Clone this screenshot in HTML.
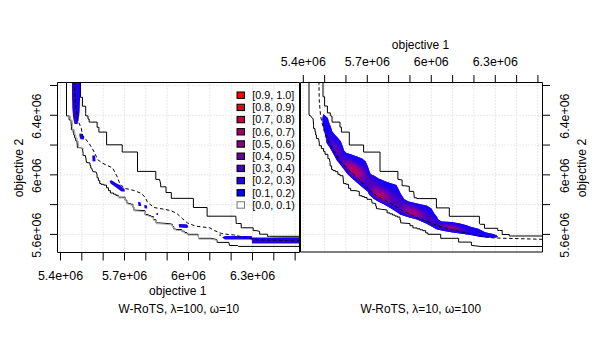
<!DOCTYPE html><html><head><meta charset="utf-8"><style>html,body{margin:0;padding:0;background:#fff;width:600px;height:350px;overflow:hidden}svg{display:block}text{font-family:"Liberation Sans",sans-serif;fill:#000}</style></head><body>
<svg width="600" height="350" viewBox="0 0 600 350">
<rect x="0" y="0" width="600" height="350" fill="#fff"/>
<path d="M60.50,82.5 V252.5 M303.30,82.5 V252.5 M81.83,82.5 V252.5 M324.63,82.5 V252.5 M103.16,82.5 V252.5 M345.96,82.5 V252.5 M124.49,82.5 V252.5 M367.29,82.5 V252.5 M145.82,82.5 V252.5 M388.62,82.5 V252.5 M167.15,82.5 V252.5 M409.95,82.5 V252.5 M188.48,82.5 V252.5 M431.28,82.5 V252.5 M209.81,82.5 V252.5 M452.61,82.5 V252.5 M231.14,82.5 V252.5 M473.94,82.5 V252.5 M252.47,82.5 V252.5 M495.27,82.5 V252.5 M273.80,82.5 V252.5 M516.60,82.5 V252.5 M295.13,82.5 V252.5 M537.93,82.5 V252.5 M57.5,234.40 H542.5 M57.5,204.62 H542.5 M57.5,174.84 H542.5 M57.5,145.06 H542.5 M57.5,115.28 H542.5 M57.5,85.50 H542.5" stroke="#d3d3d3" stroke-width="1" stroke-dasharray="1 2" fill="none"/>
<path d="M66.5,82.5 L66.5,115.9 L69.1,115.9 L69.1,119.9 L70.9,119.9 L71.4,126.7 L71.4,129.6 L73.1,129.6 L73.1,132.3 L73.8,132.3 L73.8,135.0 L74.6,135.0 L74.6,137.8 L75.7,137.8 L75.7,140.7 L76.8,140.7 L77.4,145.8 L77.4,147.6 L80.8,147.6 L82.5,148.7 L83.1,153.3 L83.1,155.5 L85.4,155.5 L86.5,162.4 L90.0,163.0 L90.0,165.6 L90.8,165.6 L90.8,168.1 L91.7,168.1 L92.8,171.5 L96.2,172.1 L97.1,174.9 L97.1,177.8 L98.4,177.8 L98.4,180.6 L99.7,180.6 L99.7,183.5 L101.0,183.5 L101.0,184.3 L103.8,184.3 L103.8,185.1 L106.5,185.1 L106.5,187.8 L108.5,187.8 L108.5,190.6 L110.4,190.6 L110.4,193.0 L113.5,193.0 L113.5,194.2 L115.9,194.2 L115.9,195.3 L118.3,195.3 L118.3,197.2 L121.4,197.2 L125.1,197.2 L125.1,200.1 L126.8,200.1 L126.8,203.0 L128.4,203.0 L128.4,203.7 L130.7,203.7 L130.7,204.3 L132.9,204.3 L132.9,207.2 L133.9,207.2 L133.9,210.1 L134.8,210.1 L145.1,210.7 L145.1,214.6 L148.3,214.6 L148.3,215.6 L150.9,215.6 L150.9,216.5 L153.4,216.5 L153.4,219.7 L156.0,219.7 L156.0,222.9 L158.6,222.9 L168.8,223.6 L172.3,224.3 L172.3,226.7 L173.8,226.7 L173.8,229.0 L175.3,229.0 L177.0,229.6 L181.7,229.6 L181.7,231.1 L184.3,231.1 L184.3,232.5 L186.9,232.5 L187.5,234.3 L198.0,234.3 L198.6,238.3 L210.8,238.3 L216.7,239.5 L217.3,242.4 L228.9,242.4 L229.5,245.5 L237.7,245.5 L238.4,246.4 L299.5,246.4" stroke="#000" stroke-width="1" fill="none"/>
<path d="M67.8,116.1 L70.4,116.1 L70.4,120.1 L72.2,120.1 L72.7,126.9 L72.7,129.8 L74.4,129.8 L74.4,132.5 L75.1,132.5 L75.1,135.2 L75.9,135.2 L75.9,138.0 L77.0,138.0 L77.0,140.9 L78.1,140.9 L78.7,146.0 L78.7,147.8 L82.1,147.8 L83.8,148.9" stroke="#a8a8a8" stroke-width="1" fill="none"/>
<path d="M118.5,196.2 L118.5,198.1 L121.6,198.1 L125.3,198.1 L125.3,201.0 L126.9,201.0 L126.9,203.9 L128.6,203.9 L128.6,204.6 L130.8,204.6 L130.8,205.2 L133.1,205.2 L133.1,208.1 L134.1,208.1 L134.1,211.0 L135.0,211.0 L145.3,211.6 L145.3,215.5 L148.5,215.5 L148.5,216.4 L151.1,216.4 L151.1,217.4 L153.6,217.4 L153.6,220.6 L156.2,220.6 L156.2,223.8 L158.8,223.8 L169.0,224.5 L172.5,225.2 L172.5,227.6 L174.0,227.6 L174.0,229.9 L175.5,229.9 L177.2,230.5 L181.9,230.5 L181.9,231.9 L184.5,231.9 L184.5,233.4 L187.1,233.4 L187.7,235.2 L198.2,235.2 L198.8,239.2 L211.0,239.2 L216.9,240.4" stroke="#b0b0b0" stroke-width="1" fill="none"/>
<path d="M80.5,82.5 L80.5,97.3 L82.5,97.3 L82.4,106.2 L85.7,106.2 L85.7,113.6 L85.7,115.9 L88.0,115.9 L88.0,119.0 L89.2,119.0 L89.2,122.1 L90.3,122.1 L97.1,122.1 L97.1,127.3 L98.9,127.3 L98.9,132.1 L106.6,132.1 L106.6,144.8 L122.2,144.8 L122.2,152.0 L137.5,152.0 L137.5,171.4 L155.8,171.4 L155.8,179.4 L159.5,179.4 L160.7,184.0 L160.7,186.8 L162.4,186.8 L166.0,186.8 L166.0,192.5 L171.3,192.5 L171.3,198.3 L193.4,198.4 L193.4,207.5 L207.1,207.5 L207.1,216.2 L235.8,216.2 L236.2,222.1 L236.2,223.5 L237.7,223.5 L241.2,223.5 L241.2,227.8 L242.6,227.8 L253.2,227.8 L253.2,230.6 L256.1,230.6 L259.6,231.3 L259.6,234.2 L261.7,234.2 L267.4,234.2 L267.4,236.3 L269.5,236.3 L299.5,236.3" stroke="#000" stroke-width="1" fill="none"/>
<defs><linearGradient id="lg1" x1="0" x2="1" y1="0" y2="0"><stop offset="0" stop-color="#3200c6"/><stop offset="0.45" stop-color="#2a00d4"/><stop offset="0.6" stop-color="#1800f2"/><stop offset="1" stop-color="#1000f8"/></linearGradient></defs>
<path d="M72.0,82.5 L80.3,82.5 L80.0,100.0 L79.6,112.0 L78.5,120.0 L77.5,124.0 L74.5,124.0 L73.2,118.0 L72.3,108.0 L72.0,95.0 Z" fill="url(#lg1)" stroke="none"/>
<path d="M79.5,133.5 L82.0,133.8 L84.2,137.5 L83.8,139.5 L80.5,139.3 L79.3,136.0 Z" fill="#1a00f6" stroke="none"/>
<path d="M92.2,155.4 L95.0,155.6 L95.6,161.2 L92.6,161.4 Z" fill="#1a00f6" stroke="none"/>
<path d="M109.5,181.0 L111.5,180.2 L117.0,183.8 L120.0,185.0 L124.6,189.3 L124.8,191.6 L121.5,191.5 L116.5,187.8 L110.5,183.5 Z" fill="#1a00f6" stroke="none"/>
<path d="M138.0,202.0 L140.5,202.3 L141.3,206.0 L138.5,206.0 Z" fill="#1a00f6" stroke="none"/>
<path d="M144.2,205.0 L147.0,205.5 L147.2,208.5 L144.5,208.3 Z" fill="#1a00f6" stroke="none"/>
<path d="M156.5,213.0 L158.0,213.0 L158.0,215.0 L156.5,215.0 Z" fill="#1a00f6" stroke="none"/>
<path d="M178.8,224.0 L186.5,224.2 L188.3,226.0 L187.5,228.0 L179.0,227.6 Z" fill="#1a00f6" stroke="none"/>
<path d="M219.5,234.2 L220.8,234.2 L220.8,236.0 L219.5,236.0 Z" fill="#1a00f6" stroke="none"/>
<path d="M222.0,237.5 L225.0,236.0 L251.8,236.0 L252.0,237.4 L270.0,237.5 L285.0,237.2 L299.5,237.2 L299.5,243.6 L252.0,243.6 L251.8,239.6 L225.0,239.4 Z" fill="#1a00f6" stroke="none"/>
<path d="M252,239.5 L299.5,239.3 L299.5,242 L252,242 Z" fill="#3a00b8" opacity="0.7"/>
<path d="M74.4,82.5 L75.5,105.0 L77.7,119.9 L81.1,127.9 L82.7,135.3 L89.2,143.7 L92.0,148.0 L95.0,153.6 L97.6,159.6 L102.4,163.1 L107.3,165.5 L112.5,167.8 L116.7,175.7 L119.8,183.5 L124.5,188.3 L134.1,190.5 L141.2,193.4 L145.1,197.2 L147.6,202.4 L154.1,207.5 L157.3,208.1 L165.0,209.4 L171.0,210.7 L177.0,213.6 L182.3,218.5 L187.5,223.0 L195.7,226.2 L209.7,227.8 L214.3,230.5 L221.3,233.4 L228.5,234.5 L233.4,234.9 L249.0,238.4 L257.5,239.8 L299.5,241.0" stroke="#000" stroke-width="1" stroke-dasharray="3.5 2.5" stroke-dashoffset="1.4" fill="none"/>
<path d="M309.0,82.5 L309.0,115.1 L310.9,116.1 L311.4,117.4 L313.1,118.6 L313.6,125.7 L313.6,128.6 L315.0,128.6 L315.0,131.8 L315.7,131.8 L315.7,135.0 L316.4,135.0 L316.4,138.6 L318.6,138.6 L319.3,142.9 L319.3,145.7 L321.4,145.7 L321.4,148.6 L323.6,148.6 L323.6,151.4 L325.0,151.4 L325.0,154.3 L327.9,154.3 L327.9,158.6 L329.3,158.6 L330.1,162.3 L330.1,165.9 L331.6,165.9 L331.6,169.5 L333.0,169.5 L333.0,170.6 L335.4,170.6 L335.4,171.7 L337.9,171.7 L337.9,174.3 L340.0,174.3 L340.0,175.7 L342.9,175.7 L343.6,182.9 L343.6,183.6 L346.1,183.6 L346.1,184.3 L348.6,184.3 L348.6,188.3 L350.7,188.3 L350.7,190.6 L355.0,190.6 L359.3,191.5 L359.3,195.7 L361.9,195.7 L361.9,196.6 L364.4,196.6 L364.4,197.5 L367.0,197.5 L367.0,199.3 L371.4,199.3 L372.1,202.9 L375.7,203.6 L375.7,206.1 L376.4,206.1 L376.4,208.6 L377.1,208.6 L381.4,209.3 L387.1,210.0 L387.1,212.9 L390.0,212.9 L390.0,213.9 L392.5,213.9 L392.5,215.0 L395.0,215.0 L395.0,216.1 L397.5,216.1 L397.5,217.1 L400.0,217.1 L400.0,220.0 L400.7,220.0 L400.7,222.9 L401.4,222.9 L410.0,223.6 L410.0,225.7 L412.9,225.7 L412.9,227.9 L414.3,227.9 L417.1,227.9 L417.1,228.8 L420.0,228.8 L420.0,229.8 L422.8,229.8 L422.8,230.7 L425.7,230.7 L425.7,232.9 L427.9,232.9 L427.9,234.3 L430.0,234.3 L440.7,234.3 L440.7,238.3 L458.6,238.3 L458.6,242.1 L471.4,242.1 L471.4,245.4 L481.1,246.5 L542.5,246.5" stroke="#000" stroke-width="1" fill="none"/>
<path d="M323.0,82.5 L323.0,96.8 L324.6,96.8 L324.6,106.0 L327.4,106.0 L327.4,112.9 L330.3,112.9 L330.3,115.7 L332.0,116.3 L332.1,122.1 L340.0,122.1 L340.0,127.1 L341.4,127.1 L341.4,132.1 L349.3,132.1 L349.3,145.0 L363.6,145.0 L363.6,152.1 L380.0,152.1 L380.0,171.4 L397.9,171.4 L397.9,179.3 L402.1,180.0 L402.1,183.6 L402.1,185.7 L404.3,185.7 L409.3,186.4 L409.3,191.4 L413.6,191.4 L414.3,197.1 L414.3,197.8 L416.8,197.8 L416.8,198.6 L419.3,198.6 L436.4,198.6 L436.4,207.9 L449.3,207.9 L449.3,216.3 L479.4,216.3 L479.4,223.7 L480.5,224.3 L484.5,224.3 L484.5,228.3 L497.7,228.3 L497.7,230.5 L499.4,230.5 L502.2,230.5 L502.2,234.5 L509.3,234.5 L509.3,236.0 L511.4,236.0 L542.5,236.0" stroke="#000" stroke-width="1" fill="none"/>
<defs><clipPath id="bandclip"><path d="M323.4,114.0 L325.7,116.3 L327.9,117.9 L328.7,121.4 L330.9,127.1 L332.3,131.4 L335.1,135.0 L338.0,137.9 L340.9,141.4 L343.0,147.1 L344.0,150.5 L346.5,153.0 L350.0,154.0 L357.1,156.4 L362.1,158.6 L365.7,161.4 L367.9,166.4 L369.3,170.7 L370.7,174.3 L374.3,175.7 L378.6,178.6 L387.1,182.1 L396.4,185.0 L398.6,189.3 L400.5,193.2 L404.3,199.3 L408.6,201.4 L417.1,203.6 L427.1,205.7 L431.4,208.6 L434.3,213.6 L437.1,217.1 L437.9,219.3 L441.4,221.4 L451.4,222.1 L460.0,223.6 L465.7,225.0 L471.4,227.1 L478.3,228.8 L485.1,232.3 L493.1,234.0 L496.5,235.2 L497.8,236.5 L496.5,237.6 L488.5,237.6 L480.5,237.0 L473.7,235.5 L467.1,234.6 L458.6,233.3 L451.4,232.3 L444.3,230.9 L437.1,229.5 L430.0,225.5 L425.7,223.2 L417.1,219.6 L408.6,217.3 L400.0,214.5 L398.5,213.2 L391.2,208.4 L383.9,204.3 L378.1,201.5 L373.7,198.8 L369.2,194.7 L367.7,191.4 L364.8,189.2 L356.2,182.0 L347.7,174.2 L339.3,163.3 L336.9,160.5 L334.4,155.8 L331.6,150.7 L329.4,147.1 L326.6,142.9 L325.9,138.6 L324.4,131.4 L323.0,125.7 L322.3,118.6 L323.0,115.7 Z"/></clipPath><filter id="blur3" x="-20%" y="-20%" width="140%" height="140%"><feGaussianBlur stdDeviation="2.0"/></filter><filter id="blur1" x="-5%" y="-5%" width="110%" height="110%"><feGaussianBlur stdDeviation="1.0"/></filter></defs>
<path d="M323.4,114.0 L325.7,116.3 L327.9,117.9 L328.7,121.4 L330.9,127.1 L332.3,131.4 L335.1,135.0 L338.0,137.9 L340.9,141.4 L343.0,147.1 L344.0,150.5 L346.5,153.0 L350.0,154.0 L357.1,156.4 L362.1,158.6 L365.7,161.4 L367.9,166.4 L369.3,170.7 L370.7,174.3 L374.3,175.7 L378.6,178.6 L387.1,182.1 L396.4,185.0 L398.6,189.3 L400.5,193.2 L404.3,199.3 L408.6,201.4 L417.1,203.6 L427.1,205.7 L431.4,208.6 L434.3,213.6 L437.1,217.1 L437.9,219.3 L441.4,221.4 L451.4,222.1 L460.0,223.6 L465.7,225.0 L471.4,227.1 L478.3,228.8 L485.1,232.3 L493.1,234.0 L496.5,235.2 L497.8,236.5 L496.5,237.6 L488.5,237.6 L480.5,237.0 L473.7,235.5 L467.1,234.6 L458.6,233.3 L451.4,232.3 L444.3,230.9 L437.1,229.5 L430.0,225.5 L425.7,223.2 L417.1,219.6 L408.6,217.3 L400.0,214.5 L398.5,213.2 L391.2,208.4 L383.9,204.3 L378.1,201.5 L373.7,198.8 L369.2,194.7 L367.7,191.4 L364.8,189.2 L356.2,182.0 L347.7,174.2 L339.3,163.3 L336.9,160.5 L334.4,155.8 L331.6,150.7 L329.4,147.1 L326.6,142.9 L325.9,138.6 L324.4,131.4 L323.0,125.7 L322.3,118.6 L323.0,115.7 Z" fill="#1600f8" stroke="none"/>
<g clip-path="url(#bandclip)"><g filter="url(#blur3)">
<path d="M332.0,139.0 L345.0,158.0 L365.0,168.0 L380.0,185.0 L400.0,197.0 L420.0,208.0 L440.0,222.0 L462.0,227.0 L474.0,232.0 L462.0,233.0 L450.0,232.0 L432.0,227.0 L415.0,220.0 L398.0,213.0 L380.0,204.0 L367.0,191.0 L352.0,179.0 L340.0,166.0 L330.0,148.0 Z" fill="#4c00c0"/>
<ellipse cx="354" cy="170" rx="13" ry="6" transform="rotate(42 354 170)" fill="#8a0095"/>
<ellipse cx="354" cy="171" rx="8" ry="3.8" transform="rotate(42 354 171)" fill="#c00058"/>
<ellipse cx="380" cy="195" rx="11" ry="5" transform="rotate(33 380 195)" fill="#900090"/>
<ellipse cx="380" cy="196" rx="6.5" ry="3.2" transform="rotate(33 380 196)" fill="#b80060"/>
<ellipse cx="413" cy="213" rx="11" ry="4.2" transform="rotate(25 413 213)" fill="#900090"/>
<ellipse cx="413" cy="214" rx="6" ry="2.8" transform="rotate(25 413 214)" fill="#b80062"/>
<ellipse cx="451" cy="228" rx="10" ry="3.5" transform="rotate(10 451 228)" fill="#8a0095"/>
<ellipse cx="451" cy="228.5" rx="5" ry="2.2" transform="rotate(10 451 228.5)" fill="#b0006a"/>
<ellipse cx="337" cy="149" rx="7" ry="2.8" transform="rotate(58 337 149)" fill="#7400a6"/>
<ellipse cx="331" cy="139" rx="4" ry="2" transform="rotate(65 331 139)" fill="#5800b8"/>
</g></g>
<g clip-path="url(#bandclip)"><path d="M323.4,114.0 L325.7,116.3 L327.9,117.9 L328.7,121.4 L330.9,127.1 L332.3,131.4 L335.1,135.0 L338.0,137.9 L340.9,141.4 L343.0,147.1 L344.0,150.5 L346.5,153.0 L350.0,154.0 L357.1,156.4 L362.1,158.6 L365.7,161.4 L367.9,166.4 L369.3,170.7 L370.7,174.3 L374.3,175.7 L378.6,178.6 L387.1,182.1 L396.4,185.0 L398.6,189.3 L400.5,193.2 L404.3,199.3 L408.6,201.4 L417.1,203.6 L427.1,205.7 L431.4,208.6 L434.3,213.6 L437.1,217.1 L437.9,219.3 L441.4,221.4 L451.4,222.1 L460.0,223.6 L465.7,225.0 L471.4,227.1 L478.3,228.8 L485.1,232.3 L493.1,234.0 L496.5,235.2 L497.8,236.5 L496.5,237.6 L488.5,237.6 L480.5,237.0 L473.7,235.5 L467.1,234.6 L458.6,233.3 L451.4,232.3 L444.3,230.9 L437.1,229.5 L430.0,225.5 L425.7,223.2 L417.1,219.6 L408.6,217.3 L400.0,214.5 L398.5,213.2 L391.2,208.4 L383.9,204.3 L378.1,201.5 L373.7,198.8 L369.2,194.7 L367.7,191.4 L364.8,189.2 L356.2,182.0 L347.7,174.2 L339.3,163.3 L336.9,160.5 L334.4,155.8 L331.6,150.7 L329.4,147.1 L326.6,142.9 L325.9,138.6 L324.4,131.4 L323.0,125.7 L322.3,118.6 L323.0,115.7 Z" fill="none" stroke="#1700fa" stroke-width="4.5" filter="url(#blur1)"/></g>
<path d="M319.0,82.5 L319.2,100.0 L320.6,116.3 L322.1,122.9 L324.3,131.4 L327.1,138.6 L330.7,145.7 L335.0,152.9 L338.6,158.6 L340.0,161.4 L348.6,170.0 L357.1,177.1 L365.7,186.4 L370.0,190.7 L378.6,197.1 L391.4,203.6 L402.0,210.5 L410.0,214.3 L417.1,217.9 L428.6,222.1 L440.0,226.5 L451.4,229.5 L470.0,234.0 L482.8,236.6 L494.2,238.0 L542.5,239.3" stroke="#000" stroke-width="1" stroke-dasharray="3.5 2.5" stroke-dashoffset="1.3" fill="none"/>
<path d="M57.5,82.5 H299.5 V252.5 H57.5 Z" stroke="#000" stroke-width="1" fill="none"/>
<path d="M300.5,82.5 H542.5 V252 H300.5 Z" stroke="#000" stroke-width="1" fill="none"/>
<path d="M60.50,252.5 V260.5 M303.30,82.5 V75 M81.83,252.5 V260.5 M324.63,82.5 V75 M103.16,252.5 V260.5 M345.96,82.5 V75 M124.49,252.5 V260.5 M367.29,82.5 V75 M145.82,252.5 V260.5 M388.62,82.5 V75 M167.15,252.5 V260.5 M409.95,82.5 V75 M188.48,252.5 V260.5 M431.28,82.5 V75 M209.81,252.5 V260.5 M452.61,82.5 V75 M231.14,252.5 V260.5 M473.94,82.5 V75 M252.47,252.5 V260.5 M495.27,82.5 V75 M273.80,252.5 V260.5 M516.60,82.5 V75 M295.13,252.5 V260.5 M537.93,82.5 V75 M57.5,234.40 H50 M542.5,234.40 H550 M57.5,204.62 H50 M542.5,204.62 H550 M57.5,174.84 H50 M542.5,174.84 H550 M57.5,145.06 H50 M542.5,145.06 H550 M57.5,115.28 H50 M542.5,115.28 H550 M57.5,85.50 H50 M542.5,85.50 H550" stroke="#000" stroke-width="1" fill="none"/>
<text x="60.50" y="279.7" font-size="12.4" text-anchor="middle">5.4e+06</text>
<text x="303.30" y="65.5" font-size="12.4" text-anchor="middle">5.4e+06</text>
<text x="124.49" y="279.7" font-size="12.4" text-anchor="middle">5.7e+06</text>
<text x="367.29" y="65.5" font-size="12.4" text-anchor="middle">5.7e+06</text>
<text x="188.48" y="279.7" font-size="12.4" text-anchor="middle">6e+06</text>
<text x="431.28" y="65.5" font-size="12.4" text-anchor="middle">6e+06</text>
<text x="252.47" y="279.7" font-size="12.4" text-anchor="middle">6.3e+06</text>
<text x="495.27" y="65.5" font-size="12.4" text-anchor="middle">6.3e+06</text>
<text transform="translate(40.8,235.20) rotate(-90)" font-size="12.4" text-anchor="middle">5.6e+06</text>
<text transform="translate(568.6,235.20) rotate(-90)" font-size="12.4" text-anchor="middle">5.6e+06</text>
<text transform="translate(40.8,175.64) rotate(-90)" font-size="12.4" text-anchor="middle">6e+06</text>
<text transform="translate(568.6,175.64) rotate(-90)" font-size="12.4" text-anchor="middle">6e+06</text>
<text transform="translate(40.8,116.08) rotate(-90)" font-size="12.4" text-anchor="middle">6.4e+06</text>
<text transform="translate(568.6,116.08) rotate(-90)" font-size="12.4" text-anchor="middle">6.4e+06</text>
<text x="177.8" y="295.3" font-size="12" text-anchor="middle">objective 1</text>
<text x="420.5" y="49.1" font-size="12" text-anchor="middle">objective 1</text>
<text transform="translate(23.3,168.0) rotate(-90)" font-size="12.25" text-anchor="middle">objective 2</text>
<text transform="translate(585.7,168.0) rotate(-90)" font-size="12.25" text-anchor="middle">objective 2</text>
<text x="178.9" y="312.7" font-size="12" text-anchor="middle" textLength="120.6" lengthAdjust="spacingAndGlyphs">W-RoTS, λ=100, ω=10</text>
<text x="420.7" y="313.0" font-size="12" text-anchor="middle" textLength="120.6" lengthAdjust="spacingAndGlyphs">W-RoTS, λ=10, ω=100</text>
<rect x="237" y="92.00" width="7.5" height="6.4" fill="#FF0000" stroke="#000" stroke-width="1"/>
<text x="252.3" y="98.90" font-size="10.8">[0.9, 1.0]</text>
<rect x="237" y="104.20" width="7.5" height="6.4" fill="#DF0020" stroke="#000" stroke-width="1"/>
<text x="252.3" y="111.10" font-size="10.8">[0.8, 0.9)</text>
<rect x="237" y="116.40" width="7.5" height="6.4" fill="#BF0040" stroke="#000" stroke-width="1"/>
<text x="252.3" y="123.30" font-size="10.8">[0.7, 0.8)</text>
<rect x="237" y="128.60" width="7.5" height="6.4" fill="#9F0060" stroke="#000" stroke-width="1"/>
<text x="252.3" y="135.50" font-size="10.8">[0.6, 0.7)</text>
<rect x="237" y="140.80" width="7.5" height="6.4" fill="#7F0080" stroke="#000" stroke-width="1"/>
<text x="252.3" y="147.70" font-size="10.8">[0.5, 0.6)</text>
<rect x="237" y="153.00" width="7.5" height="6.4" fill="#5F00A0" stroke="#000" stroke-width="1"/>
<text x="252.3" y="159.90" font-size="10.8">[0.4, 0.5)</text>
<rect x="237" y="165.20" width="7.5" height="6.4" fill="#3F00C0" stroke="#000" stroke-width="1"/>
<text x="252.3" y="172.10" font-size="10.8">[0.3, 0.4)</text>
<rect x="237" y="177.40" width="7.5" height="6.4" fill="#1F00E0" stroke="#000" stroke-width="1"/>
<text x="252.3" y="184.30" font-size="10.8">[0.2, 0.3)</text>
<rect x="237" y="189.60" width="7.5" height="6.4" fill="#0000FF" stroke="#000" stroke-width="1"/>
<text x="252.3" y="196.50" font-size="10.8">[0.1, 0.2)</text>
<rect x="237" y="201.80" width="7.5" height="6.4" fill="#FFFFFF" stroke="#777" stroke-width="1"/>
<text x="252.3" y="208.70" font-size="10.8">[0.0, 0.1)</text>
</svg></body></html>
